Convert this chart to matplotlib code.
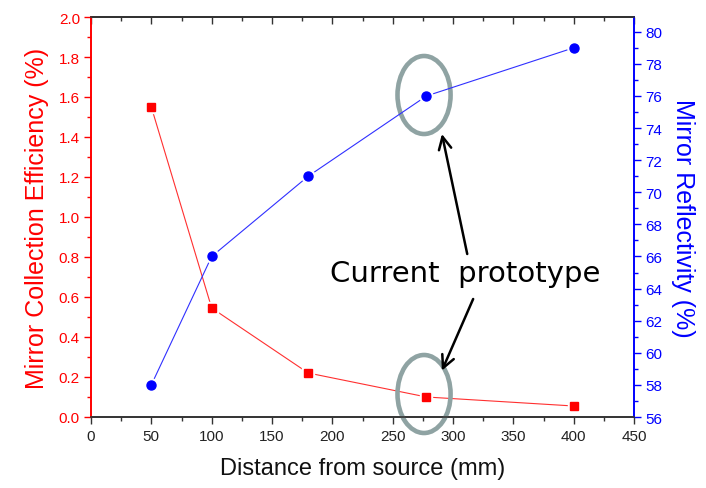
import matplotlib
matplotlib.use("Agg")
import matplotlib.pyplot as plt
from matplotlib.patches import Ellipse
from matplotlib.ticker import MultipleLocator

# data
distance = [50, 100, 180, 278, 400]
efficiency = [1.55, 0.545, 0.22, 0.10, 0.055]
reflectivity = [58, 66, 71, 76, 79]

RED = "#ff0000"
BLUE = "#0000ff"
RING = "#8fa3a3"

plt.rcParams["font.family"] = ["Liberation Sans", "DejaVu Sans"]

fig = plt.figure(figsize=(7.06, 4.89), dpi=100)
ax = fig.add_axes([91 / 706, 71 / 489, 543 / 706, 400 / 489])
ax2 = ax.twinx()

# efficiency on left axis
ax.plot(distance, efficiency, color="#ff3030", lw=0.8, zorder=2)
ax.plot(distance, efficiency, ls="none", marker="s", ms=9, mfc="white", mec="white", zorder=3)
ax.plot(distance, efficiency, ls="none", marker="s", ms=6, color=RED, zorder=4)

# reflectivity on right axis
ax2.plot(distance, reflectivity, color="#3030ff", lw=0.8, zorder=2)
ax2.plot(distance, reflectivity, ls="none", marker="o", ms=9.5, mfc="white", mec="white", zorder=3)
ax2.plot(distance, reflectivity, ls="none", marker="o", ms=6.5, color=BLUE, zorder=4)

ax.set_xlim(0, 450)
ax.set_ylim(0, 2.0)
ax2.set_ylim(56, 80.92)

ax.xaxis.set_major_locator(MultipleLocator(50))
ax.xaxis.set_minor_locator(MultipleLocator(25))
ax.yaxis.set_major_locator(MultipleLocator(0.2))
ax.yaxis.set_minor_locator(MultipleLocator(0.1))
ax.yaxis.set_major_formatter(matplotlib.ticker.FormatStrFormatter("%.1f"))
ax2.yaxis.set_major_locator(MultipleLocator(2))
ax2.yaxis.set_minor_locator(MultipleLocator(1))

# spines and ticks
for a in (ax, ax2):
    a.spines["left"].set_color(RED)
    a.spines["right"].set_color(BLUE)
    a.spines["top"].set_color("#333333")
    a.spines["bottom"].set_color("#333333")
    for s in a.spines.values():
        s.set_linewidth(1.2)

ax.tick_params(axis="x", which="major", direction="out", length=5, width=1,
               color="#333333", labelsize=11, labelcolor="#222222", pad=4)
ax.tick_params(axis="x", which="minor", direction="out", length=3, width=1, color="#333333")
ax.tick_params(axis="y", which="major", direction="out", length=5, width=1,
               color=RED, labelsize=11, labelcolor=RED, pad=3)
ax.tick_params(axis="y", which="minor", direction="out", length=3, width=1, color=RED)
ax2.tick_params(axis="y", which="major", direction="out", length=5, width=1,
                color=BLUE, labelsize=11, labelcolor=BLUE, pad=3)
ax2.tick_params(axis="y", which="minor", direction="out", length=3, width=1, color=BLUE)

top = ax.secondary_xaxis("top")
top.xaxis.set_major_locator(MultipleLocator(50))
top.xaxis.set_minor_locator(MultipleLocator(25))
top.tick_params(which="major", direction="in", length=5, width=1, color="#333333", labeltop=False)
top.tick_params(which="minor", direction="in", length=3, width=1, color="#333333")
top.spines["top"].set_color("#333333")
top.spines["top"].set_linewidth(1.2)

ax.set_xlabel("Distance from source (mm)", fontsize=17, color="#111111", labelpad=10)
ax.set_ylabel("Mirror Collection Efficiency (%)", fontsize=18, color=RED, labelpad=7)
ax2.set_ylabel("Mirror Reflectivity (%)", fontsize=18, color=BLUE, rotation=-90, labelpad=24)

# rings around the current prototype
for cy in (1.61, 0.115):
    ax.add_patch(Ellipse((276, cy), width=44, height=0.39, fill=False,
                         ec=RING, lw=3.3, zorder=5, clip_on=False))

ax.text(310.5, 0.68, "Current  prototype", fontsize=21, family="DejaVu Sans",
        ha="center", va="baseline", color="black", zorder=6)

arrow = dict(arrowstyle="->,head_length=0.9,head_width=0.45", color="black", lw=1.8,
             shrinkA=0, shrinkB=0)
ax.annotate("", xy=(290.8, 1.415), xytext=(311.8, 0.815), arrowprops=arrow, zorder=6)
ax.annotate("", xy=(290.8, 0.232), xytext=(316.7, 0.59), arrowprops=arrow, zorder=6)

fig.savefig("out.png", dpi=100)
